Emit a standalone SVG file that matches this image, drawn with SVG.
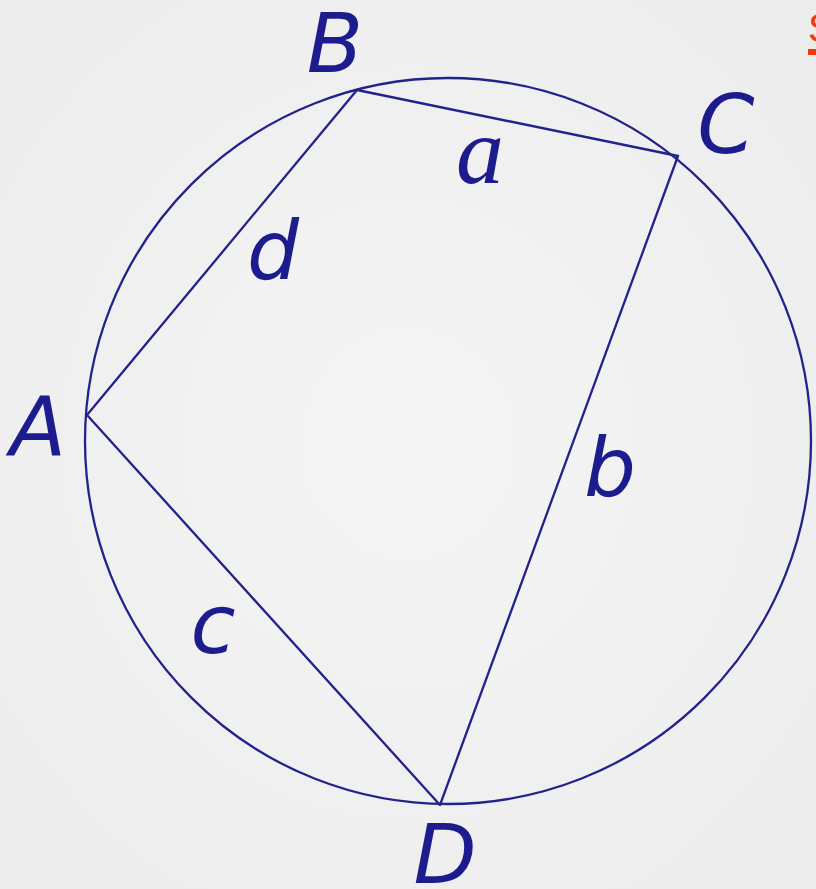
<svg xmlns="http://www.w3.org/2000/svg" width="816" height="889" viewBox="0 0 816 889">
<defs>
<radialGradient id="bg" cx="50%" cy="50%" r="70%">
<stop offset="0" stop-color="#f5f5f5"/>
<stop offset="1" stop-color="#ececec"/>
</radialGradient>
<style>
.ln{stroke:#22228c;stroke-width:2.3;fill:none;stroke-linecap:round;stroke-linejoin:round}
.lbl{font-family:"DejaVu Sans",sans-serif;font-style:oblique;font-size:82px;fill:#1c1c8e;text-anchor:middle}
.sym{font-family:"Liberation Serif",serif;font-style:italic;font-size:96px;fill:#1c1c8e;text-anchor:middle}
</style>
</defs>
<rect width="816" height="889" fill="url(#bg)"/>
<g id="circle"><circle class="ln" cx="448" cy="441" r="363"/></g>
<g id="connectors">
<path class="ln" d="M87 415 L357 90 L678 156 L440 805 Z"/>
</g>
<g id="A"><text class="lbl" x="38" y="455">A</text></g>
<g id="B"><text class="lbl" x="335" y="72">B</text></g>
<g id="C"><text class="lbl" x="726" y="153">C</text></g>
<g id="D"><text class="lbl" x="445" y="883">D</text></g>
<g id="side-a"><text class="sym" x="480" y="183">a</text></g>
<g id="side-b"><text class="lbl" x="610" y="496">b</text></g>
<g id="side-c"><text class="lbl" x="213" y="653">c</text></g>
<g id="side-d"><text class="lbl" x="273" y="279">d</text></g>
<g id="corner">
<text x="808" y="42" font-family="Liberation Sans,sans-serif" font-size="40" fill="#f03a0a">S</text>
<rect x="808" y="49" width="8" height="6" fill="#f03a0a"/>
</g>
</svg>
